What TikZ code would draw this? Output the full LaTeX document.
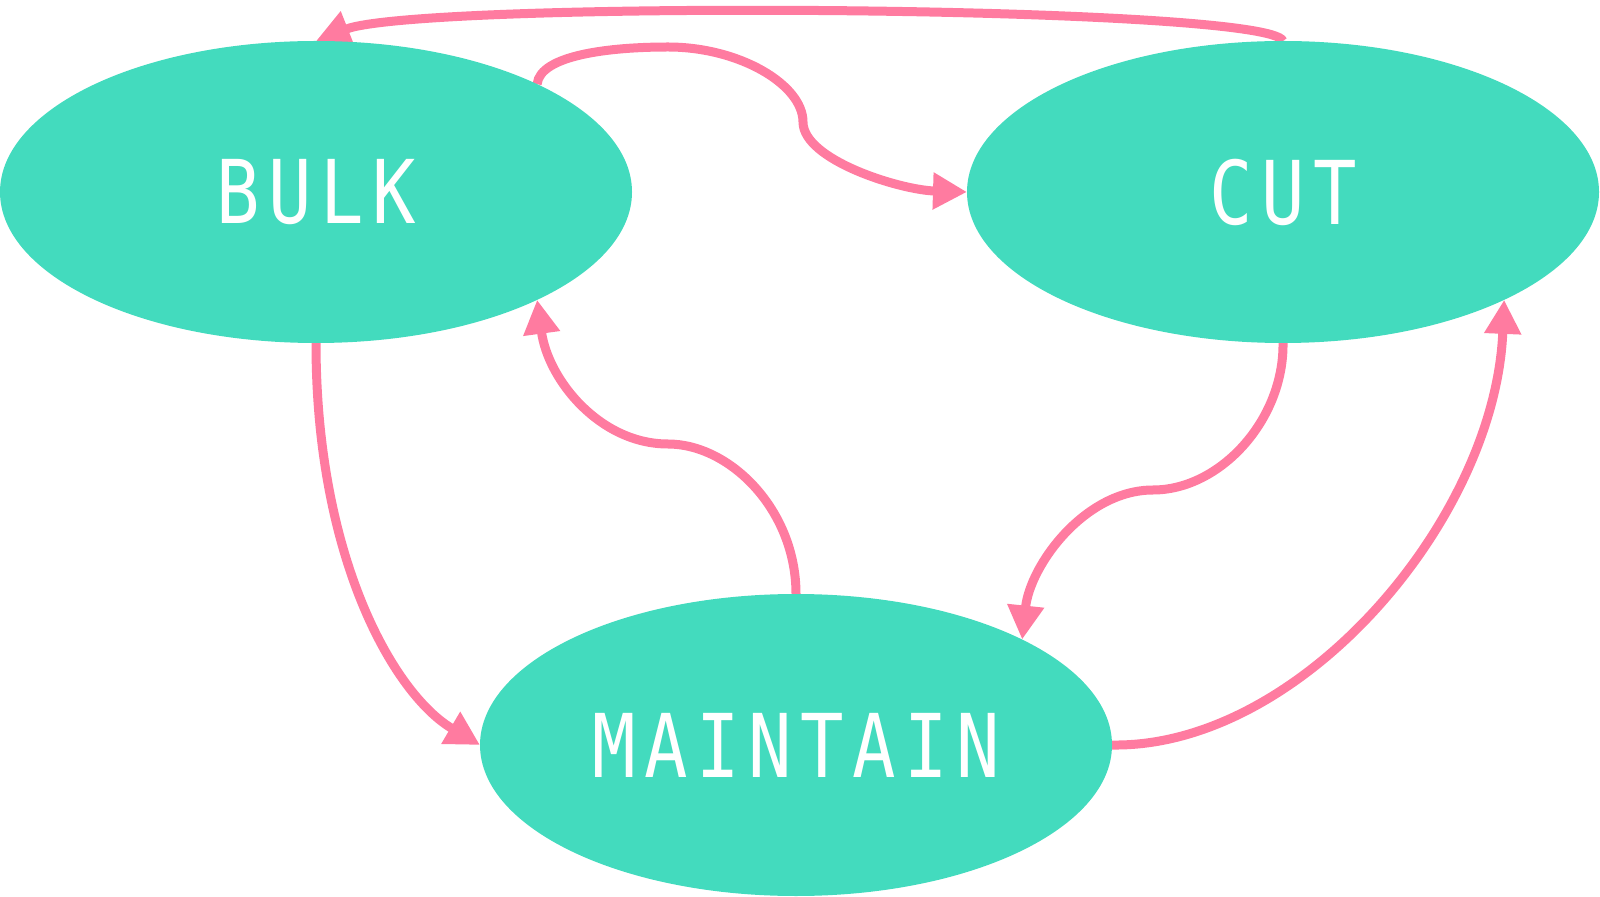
\documentclass[tikz,border=0pt]{standalone}
\usepackage{fontspec}
\usetikzlibrary{shapes.geometric,arrows.meta}
\newfontfamily\labelfont[FakeStretch=0.82]{DejaVu Sans Mono}
\definecolor{teal1}{RGB}{67,219,190}
\definecolor{pink1}{RGB}{255,123,160}
\makeatletter
\newcommand\spreadtext[1]{\@tfor\ch:=#1\do{\makebox[26pt]{\ch}}}
\makeatother
\pgfdeclarelayer{bg}
\pgfsetlayers{bg,main}
\begin{document}
\begin{tikzpicture}[x=0.5pt,y=-0.5pt,
 state/.style={ellipse,fill=teal1,draw=none,minimum width=316pt,minimum height=151pt,inner sep=0pt,outer sep=0pt,text=white,font=\labelfont\fontsize{44}{44}\selectfont},
 link/.style={draw=pink1,line width=4.5pt,-{Triangle[length=17pt,width=17.5pt]}}]
\useasboundingbox (0,0) rectangle (1600,897);
\node[state] (bulk) at (316,192) {\spreadtext{BULK}};
\node[state] (cut) at (1283,192) {\spreadtext{CUT}};
\node[state] (maintain) at (796,745) {\spreadtext{MAINTAIN}};
\begin{pgfonlayer}{bg}
\draw[link] (cut.north) .. controls (1270,5) and (420,0) .. (bulk.north);
\draw[link] (bulk.26) .. controls (540,55) and (610,47) .. (668,47) .. controls (740,47) and (803,85) .. (803,122) .. controls (803,160) and (900,190) .. (cut.west);
\draw[link] (bulk.south) .. controls (316,560) and (395,695) .. (maintain.west);
\draw[link] (maintain.north) .. controls (796,510) and (730,444) .. (668,444) .. controls (600,444) and (548,380) .. (bulk.-26);
\draw[link] (cut.south) .. controls (1284,420) and (1220,490) .. (1153,490) .. controls (1085,490) and (1030,565) .. (maintain.25.5);
\draw[link] (maintain.east) .. controls (1300,748) and (1495,520) .. (cut.-26);
\end{pgfonlayer}
\end{tikzpicture}
\end{document}
